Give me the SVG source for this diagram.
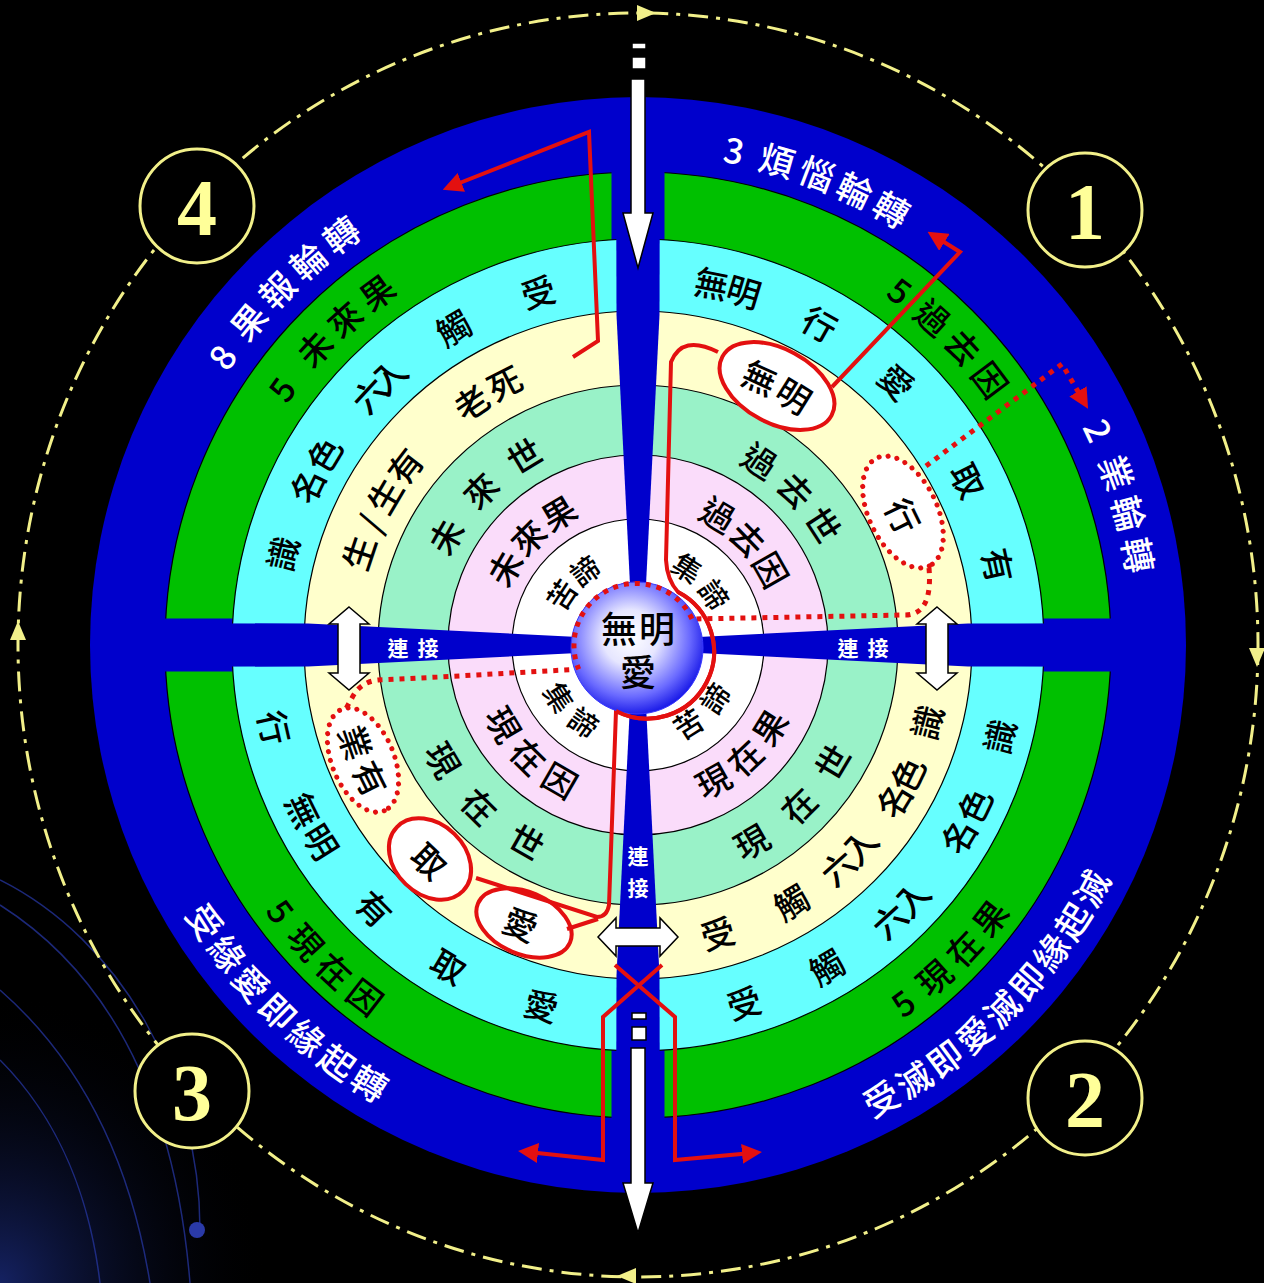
<svg xmlns="http://www.w3.org/2000/svg" width="1264" height="1283" viewBox="0 0 1264 1283">
<defs>
<style>
.t{font-family:"Noto Sans CJK TC","Noto Sans CJK SC",sans-serif;font-size:34px;font-weight:500;fill:#000;text-anchor:middle;dominant-baseline:central}
.b{font-size:35px;fill:#fff}
.s{font-size:29px}
.lk{font-family:"Noto Sans CJK TC",sans-serif;font-size:21px;font-weight:bold;fill:#fff;text-anchor:middle;dominant-baseline:central}
.num{font-family:"Liberation Serif",serif;font-weight:bold;font-size:80px;fill:#ffff99;text-anchor:middle;dominant-baseline:central}
.nc{fill:#000;stroke:#f2f08a;stroke-width:3}
.ring{stroke:#000;stroke-width:1.2}
.red{fill:none;stroke:#e31010;stroke-width:4;stroke-linejoin:miter}
.dot{fill:none;stroke:#e31010;stroke-width:5;stroke-dasharray:5 6}
.del{fill:#fff;stroke:#e31010;stroke-width:5;stroke-dasharray:0 9;stroke-linecap:round}
.sel{fill:#fff;stroke:#e31010;stroke-width:4}
.wa{fill:#fff;stroke:#000;stroke-width:1.5}
</style>
<radialGradient id="ball" cx="0.45" cy="0.42" r="0.6">
<stop offset="0" stop-color="#ffffff"/>
<stop offset="0.35" stop-color="#e6e6ff"/>
<stop offset="0.75" stop-color="#6a6aff"/>
<stop offset="1" stop-color="#1414e6"/>
</radialGradient>
<radialGradient id="corner" cx="0" cy="1" r="0.6">
<stop offset="0" stop-color="#1a2a7a" stop-opacity="0.8"/>
<stop offset="1" stop-color="#000" stop-opacity="0"/>
</radialGradient>
<marker id="ra" viewBox="0 0 10 10" refX="5" refY="5" markerWidth="5" markerHeight="5" orient="auto" markerUnits="strokeWidth">
<path d="M0,0 L10,5 L0,10 z" fill="#e31010"/>
</marker>
<marker id="rd" viewBox="0 0 10 10" refX="5" refY="5" markerWidth="4" markerHeight="4" orient="auto" markerUnits="strokeWidth">
<path d="M0,0 L10,5 L0,10 z" fill="#e31010"/>
</marker>
</defs>

<rect width="1264" height="1283" fill="#000"/>
<rect x="0" y="800" width="450" height="483" fill="url(#corner)"/>
<g id="bg-curves" fill="none" stroke="#2636a0" stroke-width="1.5" opacity="0.75">
<path d="M0,880 C120,940 200,1080 200,1230"/>
<path d="M0,905 C110,975 175,1100 190,1283"/>
<path d="M0,990 C80,1060 130,1160 150,1283"/>
<path d="M0,1060 C60,1120 90,1200 100,1283"/>
</g>
<circle cx="197" cy="1230" r="8" fill="#2a3aa8"/>

<g id="outer-cycle">
<ellipse cx="638" cy="645" rx="620" ry="632" fill="none" stroke="#f2f08a" stroke-width="3" stroke-dasharray="20 8 4 8"/>
<polygon points="637,5 656,13 637,21" fill="#f2f08a"/>
<polygon points="1249,648 1257,667 1265,648" fill="#f2f08a"/>
<polygon points="636,1268 617,1276 636,1284" fill="#f2f08a"/>
<polygon points="10,640 18,621 26,640" fill="#f2f08a"/>
</g>

<g id="rings">
<circle cx="638" cy="645" r="548" fill="#0000cc"/>
<circle class="ring" cx="638" cy="645" r="473" fill="#00c000"/>
<rect x="611.5" y="100" width="53" height="1090" fill="#0000cc"/>
<rect x="93" y="618.5" width="1090" height="53" fill="#0000cc"/>
<circle class="ring" cx="638" cy="645" r="406" fill="#66ffff"/>
<circle class="ring" cx="638" cy="645" r="334" fill="#ffffcc"/>
<circle class="ring" cx="638" cy="645" r="260" fill="#99f2c8"/>
<circle class="ring" cx="638" cy="645" r="190" fill="#fadcfa"/>
<circle class="ring" cx="638" cy="645" r="126" fill="#ffffff"/>
</g>

<g id="cross" fill="#0000cc">
<polygon points="633,645 616.5,315 616,100 660,100 659.5,315 643,645"/>
<polygon points="633,645 616.5,975 616,1190 660,1190 659.5,975 643,645"/>
<polygon points="638,640 308,623.5 93,623 93,667 308,666.5 638,650"/>
<polygon points="638,640 968,623.5 1183,623 1183,667 968,666.5 638,650"/>
</g>

<g id="ellipses">
<ellipse class="sel" cx="777" cy="386" rx="62" ry="37" transform="rotate(28.3 777 386)"/>
<ellipse class="del" cx="903" cy="512" rx="60" ry="34" transform="rotate(64 903 512)"/>
<ellipse class="del" cx="363" cy="760" rx="55" ry="31" transform="rotate(67.3 363 760)"/>
<ellipse class="sel" cx="430" cy="859" rx="46" ry="35" transform="rotate(44 430 859)"/>
<ellipse class="sel" cx="524" cy="923" rx="50" ry="31" transform="rotate(23 524 923)"/>
</g>

<g id="connectors">
<path class="red" d="M573,357 L598,341 L589,132 L452,186" marker-end="url(#ra)"/>
<path class="red" d="M832,387 L960,252 L936,237" marker-end="url(#ra)"/>
<path class="red" d="M718,352 Q682,334 671,362 L666,560 Q667,580 678,592 A67,67 0 0,1 616,711 L609,905 Q607,917 597,917 L476,878"/>
<path class="red" d="M567,929 L598,919"/>
<path class="red" d="M615,965 L675,1017 L675,1160 L752,1153" marker-end="url(#ra)"/>
<path class="red" d="M662,965 L603,1017 L603,1160 L528,1152" marker-end="url(#ra)"/>
<path class="dot" d="M926,466 L1062,364 L1083,400" marker-end="url(#rd)"/>
<path class="dot" d="M929,568 Q933,615 905,615 L692,619 A62,62 0 0,0 578.7,669.2 L440,677 L378,680 Q360,682 352,698 L344,712"/>
<rect class="wa" x="632" y="43" width="14" height="6"/>
<rect class="wa" x="632" y="57" width="14" height="12"/>
<polygon class="wa" points="631,79 645,79 645,213 653,213 638,268 623,213 631,213"/>
<rect class="wa" x="632" y="1013" width="14" height="6"/>
<rect class="wa" x="632" y="1027" width="14" height="13"/>
<polygon class="wa" points="631,1048 645,1048 645,1183 653,1183 638,1233 623,1183 631,1183"/>
<polygon class="wa" points="349,607 369,624 360,624 360,673 369,673 349,690 329,673 338,673 338,624 329,624"/>
<polygon class="wa" points="937,607 957,624 948,624 948,673 957,673 937,690 917,673 926,673 926,624 917,624"/>
<polygon class="wa" points="598,937 616,918 616,928 660,928 660,918 678,937 660,956 660,946 616,946 616,956"/>
</g>

<g id="ball">
<circle cx="637" cy="648" r="66" fill="url(#ball)" stroke="#3a3aff" stroke-width="1"/>
<path class="dot" d="M692,618.9 A62,62 0 0,0 578.7,669.2" stroke-width="4.5"/>
<path class="red" d="M678,592 A67,67 0 0,1 616,711"/>
<text class="t" style="font-size:36px" x="619" y="627">無</text>
<text class="t" style="font-size:36px" x="657" y="627">明</text>
<text class="t" style="font-size:36px" x="638" y="670">愛</text>
</g>

<g id="links">
<text class="lk" x="398" y="647">連</text><text class="lk" x="428" y="647">接</text>
<text class="lk" x="848" y="647">連</text><text class="lk" x="878" y="647">接</text>
<text class="lk" x="638" y="855">連</text><text class="lk" x="638" y="887">接</text>
</g>

<g id="q1-text">
<text class="t b" transform="translate(734.5 148.3) rotate(11)">3</text>
<text class="t b" transform="translate(777.5 158.6) rotate(16)">煩</text>
<text class="t b" transform="translate(817.7 172) rotate(20.8)">惱</text>
<text class="t b" transform="translate(855.8 188.3) rotate(25.5)">輪</text>
<text class="t b" transform="translate(892.5 207.7) rotate(30.2)">轉</text>
<text class="t b" transform="translate(1100.2 429.5) rotate(65)">2</text>
<text class="t b" transform="translate(1117.9 472.3) rotate(70.2)">業</text>
<text class="t b" transform="translate(1130.6 513) rotate(75)">輪</text>
<text class="t b" transform="translate(1140 554.7) rotate(79.8)">轉</text>
<text class="t" transform="translate(900.9 289.7) rotate(36.5)">5</text>
<text class="t" transform="translate(933.7 316.5) rotate(42)">過</text>
<text class="t" transform="translate(963.9 346.4) rotate(47.5)">去</text>
<text class="t" transform="translate(991 379) rotate(53)">因</text>
<text class="t" transform="translate(711.8 282.4) rotate(11.5)">無</text>
<text class="t" transform="translate(744.3 290.6) rotate(16.7)">明</text>
<text class="t" transform="translate(820.2 323) rotate(29.5)">行</text>
<text class="t" transform="translate(897.3 381.1) rotate(44.5)">愛</text>
<text class="t" transform="translate(969.1 479.9) rotate(63.5)">取</text>
<text class="t" transform="translate(999.2 564.9) rotate(77.5)">有</text>
<text class="t" transform="translate(760.3 376.6) rotate(24.5)">無</text>
<text class="t" transform="translate(794.3 394.8) rotate(32)">明</text>
<text class="t" transform="translate(904 515.2) rotate(64)">行</text>
<text class="t" transform="translate(760.5 459.9) rotate(33.5)">過</text>
<text class="t" transform="translate(796.4 489.4) rotate(45.5)">去</text>
<text class="t" transform="translate(824.2 524.1) rotate(57)">世</text>
<text class="t" transform="translate(718.5 513.7) rotate(31.5)">過</text>
<text class="t" transform="translate(748.8 538) rotate(46)">去</text>
<text class="t" transform="translate(772 569.2) rotate(60.5)">因</text>
<text class="t s" transform="translate(688 566.6) rotate(32.5)">集</text>
<text class="t s" transform="translate(715.6 593.7) rotate(56.5)">諦</text>
</g>

<g id="q2-text">
<text class="t b" transform="translate(220.4 355.8) rotate(-55.3)">8</text>
<text class="t b" transform="translate(247.1 320.5) rotate(-50.3)">果</text>
<text class="t b" transform="translate(275.6 289) rotate(-45.5)">報</text>
<text class="t b" transform="translate(306.7 259.9) rotate(-40.7)">輪</text>
<text class="t b" transform="translate(340.1 233.5) rotate(-35.9)">轉</text>
<text class="t" transform="translate(280.7 388.3) rotate(-54.3)">5</text>
<text class="t" transform="translate(313.6 347.7) rotate(-47.5)">未</text>
<text class="t" transform="translate(343.6 318) rotate(-42)">來</text>
<text class="t" transform="translate(376.3 291.3) rotate(-36.5)">果</text>
<text class="t" transform="translate(281.6 553.5) rotate(-75.6)">識</text>
<text class="t" transform="translate(306.4 485.2) rotate(-64.3)">名</text>
<text class="t" transform="translate(323.4 453.9) rotate(-58.8)">色</text>
<text class="t" transform="translate(368.8 394) rotate(-47)">六</text>
<text class="t" transform="translate(388 375) rotate(-42.8)">入</text>
<text class="t" transform="translate(452.9 326.9) rotate(-30.2)">觸</text>
<text class="t" transform="translate(537.8 290.9) rotate(-15.8)">受</text>
<text class="t" transform="translate(357.9 552.4) rotate(-71.7)">生</text>
<text class="t" transform="translate(369.6 522.7) rotate(-65.5)">/</text>
<text class="t" transform="translate(383.8 495.3) rotate(-59.5)">生</text>
<text class="t" transform="translate(404 465.4) rotate(-52.5)">有</text>
<text class="t" transform="translate(470.9 401.9) rotate(-34.5)">老</text>
<text class="t" transform="translate(504.1 382.2) rotate(-27)">死</text>
<text class="t" transform="translate(444.8 535.7) rotate(-60.5)">未</text>
<text class="t" transform="translate(479.6 489.4) rotate(-45.5)">來</text>
<text class="t" transform="translate(523.7 454.7) rotate(-31)">世</text>
<text class="t" transform="translate(503.8 567.5) rotate(-60)">未</text>
<text class="t" transform="translate(527.4 536.4) rotate(-45.5)">來</text>
<text class="t" transform="translate(558.2 512.1) rotate(-31)">果</text>
<text class="t s" transform="translate(560.4 593.7) rotate(-56.5)">苦</text>
<text class="t s" transform="translate(584 569.3) rotate(-35.5)">諦</text>
</g>

<g id="q3-text">
<text class="t b" transform="translate(206.6 920.9) rotate(57.4)">受</text>
<text class="t b" transform="translate(228.6 952.4) rotate(53.1)">緣</text>
<text class="t b" transform="translate(252.8 982.3) rotate(48.8)">愛</text>
<text class="t b" transform="translate(279.1 1010.2) rotate(44.5)">即</text>
<text class="t b" transform="translate(307.5 1036.1) rotate(40.2)">緣</text>
<text class="t b" transform="translate(338.5 1060.3) rotate(35.8)">起</text>
<text class="t b" transform="translate(370.5 1081.5) rotate(31.5)">轉</text>
<text class="t" transform="translate(281.9 910.3) rotate(53.3)">5</text>
<text class="t" transform="translate(307 940.9) rotate(48.2)">現</text>
<text class="t" transform="translate(335.2 969.7) rotate(43)">在</text>
<text class="t" transform="translate(365.9 995.9) rotate(37.8)">因</text>
<text class="t" transform="translate(275.3 727.4) rotate(77.2)">行</text>
<text class="t" transform="translate(304.5 809.8) rotate(63.7)">無</text>
<text class="t" transform="translate(321.8 841) rotate(58.2)">明</text>
<text class="t" transform="translate(375 908) rotate(45)">有</text>
<text class="t" transform="translate(449.2 965.5) rotate(30.5)">取</text>
<text class="t" transform="translate(541.7 1004.3) rotate(15)">愛</text>
<text class="t" transform="translate(356.2 742) rotate(71)">業</text>
<text class="t" transform="translate(371.3 778) rotate(63.5)">有</text>
<text class="t" transform="translate(430.3 860.1) rotate(44)">取</text>
<text class="t" transform="translate(521 923) rotate(23)">愛</text>
<text class="t" transform="translate(444.1 759.2) rotate(59.5)">現</text>
<text class="t" transform="translate(480.3 805.5) rotate(44.5)">在</text>
<text class="t" transform="translate(527.2 840.8) rotate(29.5)">世</text>
<text class="t" transform="translate(504.5 723.7) rotate(59.5)">現</text>
<text class="t" transform="translate(529.4 755.6) rotate(44.5)">在</text>
<text class="t" transform="translate(560.5 779.2) rotate(30)">因</text>
<text class="t s" transform="translate(560.4 696.3) rotate(56.5)">集</text>
<text class="t s" transform="translate(584.7 721.2) rotate(35)">諦</text>
</g>

<g id="q4-text">
<text class="t b" transform="translate(880.4 1097.1) rotate(-28.2)">受</text>
<text class="t b" transform="translate(912.9 1078.1) rotate(-32.4)">滅</text>
<text class="t b" transform="translate(943.9 1056.8) rotate(-36.6)">即</text>
<text class="t b" transform="translate(973.2 1033.3) rotate(-40.8)">愛</text>
<text class="t b" transform="translate(1000.7 1007.7) rotate(-45)">滅</text>
<text class="t b" transform="translate(1026.3 980.2) rotate(-49.2)">即</text>
<text class="t b" transform="translate(1049.8 950.9) rotate(-53.4)">緣</text>
<text class="t b" transform="translate(1071.1 919.9) rotate(-57.6)">起</text>
<text class="t b" transform="translate(1090.1 887.4) rotate(-61.8)">滅</text>
<text class="t" transform="translate(902.1 1001.9) rotate(-36.5)">5</text>
<text class="t" transform="translate(933.3 976.5) rotate(-41.7)">現</text>
<text class="t" transform="translate(962.7 947.8) rotate(-47)">在</text>
<text class="t" transform="translate(988.9 917.1) rotate(-52.2)">果</text>
<text class="t" transform="translate(743.6 1001.7) rotate(-16.5)">受</text>
<text class="t" transform="translate(826.2 965.9) rotate(-30.4)">觸</text>
<text class="t" transform="translate(888.8 919.7) rotate(-42.4)">六</text>
<text class="t" transform="translate(910.9 897.7) rotate(-47.2)">入</text>
<text class="t" transform="translate(957.5 835.5) rotate(-59.2)">名</text>
<text class="t" transform="translate(973.8 805.1) rotate(-64.5)">色</text>
<text class="t" transform="translate(998.6 736.3) rotate(-75.8)">識</text>
<text class="t" transform="translate(717.6 932.2) rotate(-15.5)">受</text>
<text class="t" transform="translate(790.6 901) rotate(-30.8)">觸</text>
<text class="t" transform="translate(837.4 866.5) rotate(-42)">六</text>
<text class="t" transform="translate(858.8 845.2) rotate(-47.8)">入</text>
<text class="t" transform="translate(892.9 799.4) rotate(-58.8)">名</text>
<text class="t" transform="translate(906.7 773.8) rotate(-64.4)">色</text>
<text class="t" transform="translate(925.8 722.1) rotate(-75)">識</text>
<text class="t" transform="translate(751 840.7) rotate(-30)">現</text>
<text class="t" transform="translate(797.8 804.8) rotate(-45)">在</text>
<text class="t" transform="translate(831.7 761.4) rotate(-59)">世</text>
<text class="t" transform="translate(712.7 779.7) rotate(-29)">現</text>
<text class="t" transform="translate(744 756.7) rotate(-43.5)">在</text>
<text class="t" transform="translate(768.6 726.6) rotate(-58)">果</text>
<text class="t s" transform="translate(687.4 722.6) rotate(-32.5)">苦</text>
<text class="t s" transform="translate(713.8 697.1) rotate(-55.5)">諦</text>
</g>

<g id="n4"><circle class="nc" cx="197" cy="206" r="57"/><text class="num" x="197" y="208">4</text></g>
<g id="n1"><circle class="nc" cx="1085" cy="210" r="57"/><text class="num" x="1085" y="212">1</text></g>
<g id="n3"><circle class="nc" cx="192" cy="1091" r="57"/><text class="num" x="192" y="1093">3</text></g>
<g id="n2"><circle class="nc" cx="1085" cy="1098" r="57"/><text class="num" x="1085" y="1100">2</text></g>
</svg>
